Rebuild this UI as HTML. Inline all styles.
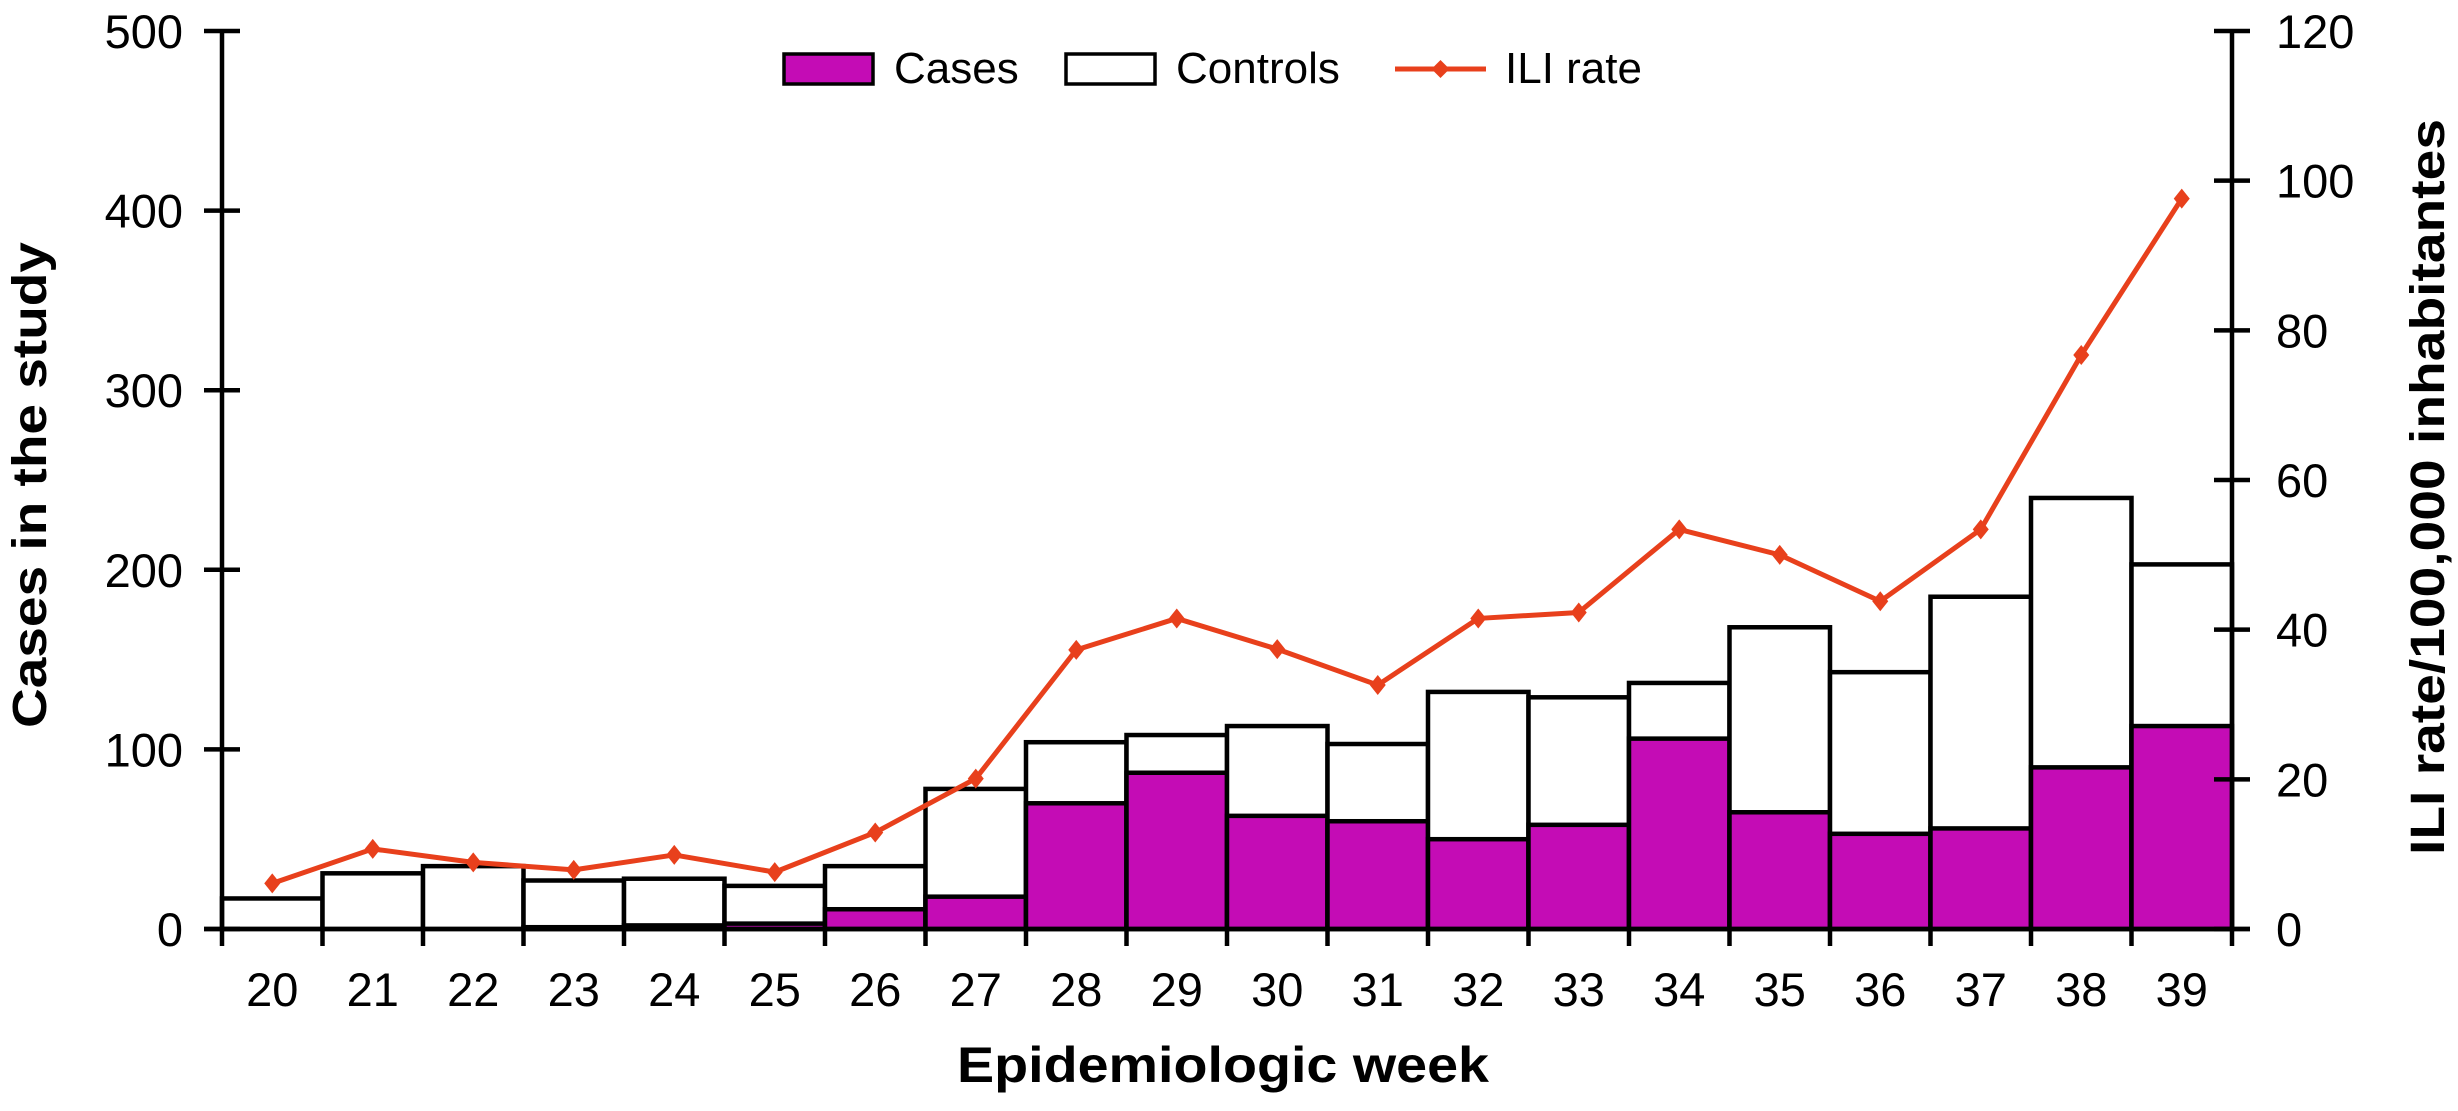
<!DOCTYPE html>
<html><head><meta charset="utf-8"><style>
html,body{margin:0;padding:0;background:#fff;}
svg{display:block;font-family:"Liberation Sans",Arial,sans-serif;}
</style></head><body>
<svg id="chart" width="2458" height="1111" viewBox="0 0 2458 1111" xmlns="http://www.w3.org/2000/svg">
<g id="bars"></g>
<g id="axes"></g>
<g id="line"></g>
<g>
  <rect x="784" y="54" width="89" height="30" fill="#C40CB5" stroke="#000" stroke-width="3.5"/>
  <text x="894" y="83" font-size="44">Cases</text>
  <rect x="1066" y="54" width="89" height="30" fill="#fff" stroke="#000" stroke-width="3.5"/>
  <text x="1176" y="83" font-size="44">Controls</text>
  <line x1="1395" y1="69" x2="1486" y2="69" stroke="#E8401C" stroke-width="5"/>
  <path d="M1440.5 60 L1449.5 69 L1440.5 78 L1431.5 69 Z" fill="#E8401C"/>
  <text x="1505" y="83" font-size="44">ILI rate</text>
</g>
<text transform="translate(46,485) rotate(-90)" text-anchor="middle" font-size="48" font-weight="bold" textLength="486" lengthAdjust="spacingAndGlyphs">Cases in the study</text>
<text transform="translate(2444,487) rotate(-90)" text-anchor="middle" font-size="48" font-weight="bold" textLength="736" lengthAdjust="spacingAndGlyphs">ILI rate/100,000 inhabitantes</text>
<text x="1223" y="1082" text-anchor="middle" font-size="50" font-weight="bold" textLength="532" lengthAdjust="spacingAndGlyphs">Epidemiologic week</text>
</svg>
<script>
const weeks = [20,21,22,23,24,25,26,27,28,29,30,31,32,33,34,35,36,37,38,39];
const totals = [17,31,35,27,28,24,35,78,104,108,113,103,132,129,137,168,143,185,240,203];
const cases = [0,0,0,1,2,3,11,18,70,87,63,60,50,58,106,65,53,56,90,113];
const ili = [6.1,10.7,8.9,7.9,9.9,7.6,12.9,20.1,37.3,41.5,37.4,32.6,41.5,42.3,53.4,50,43.8,53.4,76.7,97.6];
const leftTicks = [0,100,200,300,400,500];
const rightTicks = [0,20,40,60,80,100,120];

const NS='http://www.w3.org/2000/svg';
const X0=222, X1=2232, Y0=929, YT=31;
const bw=(X1-X0)/weeks.length;
const yL=v=>Y0-(Y0-YT)*v/500;
const yR=v=>Y0-(Y0-YT)*v/120;
const xB=i=>X0+i*bw;
function mk(tag,attrs,parent){const e=document.createElementNS(NS,tag);for(const k in attrs)e.setAttribute(k,attrs[k]);parent.appendChild(e);return e;}
const bars=document.getElementById('bars'),axes=document.getElementById('axes'),line=document.getElementById('line');

weeks.forEach((w,i)=>{
  const t=mk('rect',{x:xB(i),y:yL(totals[i]),width:bw,height:Y0-yL(totals[i]),fill:'#fff',stroke:'#000','stroke-width':4.5},bars);
  
  
  if(cases[i]>0){
    const c=mk('rect',{x:xB(i),y:yL(cases[i]),width:bw,height:Y0-yL(cases[i]),fill:'#C40CB5',stroke:'#000','stroke-width':4.5},bars);
    
    
  }
});
let a=mk('line',{x1:X0,y1:YT,x2:X0,y2:Y0,stroke:'#000','stroke-width':4.5},axes);


a=mk('line',{x1:X1,y1:YT,x2:X1,y2:Y0,stroke:'#000','stroke-width':4.5},axes);


a=mk('line',{x1:204,y1:Y0,x2:2250,y2:Y0,stroke:'#000','stroke-width':4.5},axes);


leftTicks.forEach(v=>{
  const l=mk('line',{x1:X0-18,y1:yL(v),x2:X0+18,y2:yL(v),stroke:'#000','stroke-width':4.5},axes);
  
  
  const t=mk('text',{x:183,y:yL(v)+17,'text-anchor':'end','font-size':47},axes);
  t.textContent=v;
  
  
});
rightTicks.forEach(v=>{
  const l=mk('line',{x1:X1-18,y1:yR(v),x2:X1+18,y2:yR(v),stroke:'#000','stroke-width':4.5},axes);
  
  
  const t=mk('text',{x:2276,y:yR(v)+17,'font-size':47},axes);
  t.textContent=v;
  
  
});
for(let i=0;i<=weeks.length;i++){
  const l=mk('line',{x1:xB(i),y1:Y0,x2:xB(i),y2:946,stroke:'#000','stroke-width':4.5},axes);
  
  
}
weeks.forEach((w,i)=>{
  const t=mk('text',{x:xB(i)+bw/2,y:1006,'text-anchor':'middle','font-size':47},axes);
  t.textContent=w;
  
  
});
const pts=ili.map((v,i)=>[xB(i)+bw/2,yR(v)]);
const pl=mk('polyline',{points:pts.map(p=>p.join(',')).join(' '),fill:'none',stroke:'#E8401C','stroke-width':5,'stroke-linejoin':'round'},line);


pts.forEach((p,i)=>{
  const d=mk('path',{d:`M${p[0]} ${p[1]-10} L${p[0]+8} ${p[1]} L${p[0]} ${p[1]+10} L${p[0]-8} ${p[1]} Z`,fill:'#E8401C'},line);
  
  
});
</script>
</body></html>
